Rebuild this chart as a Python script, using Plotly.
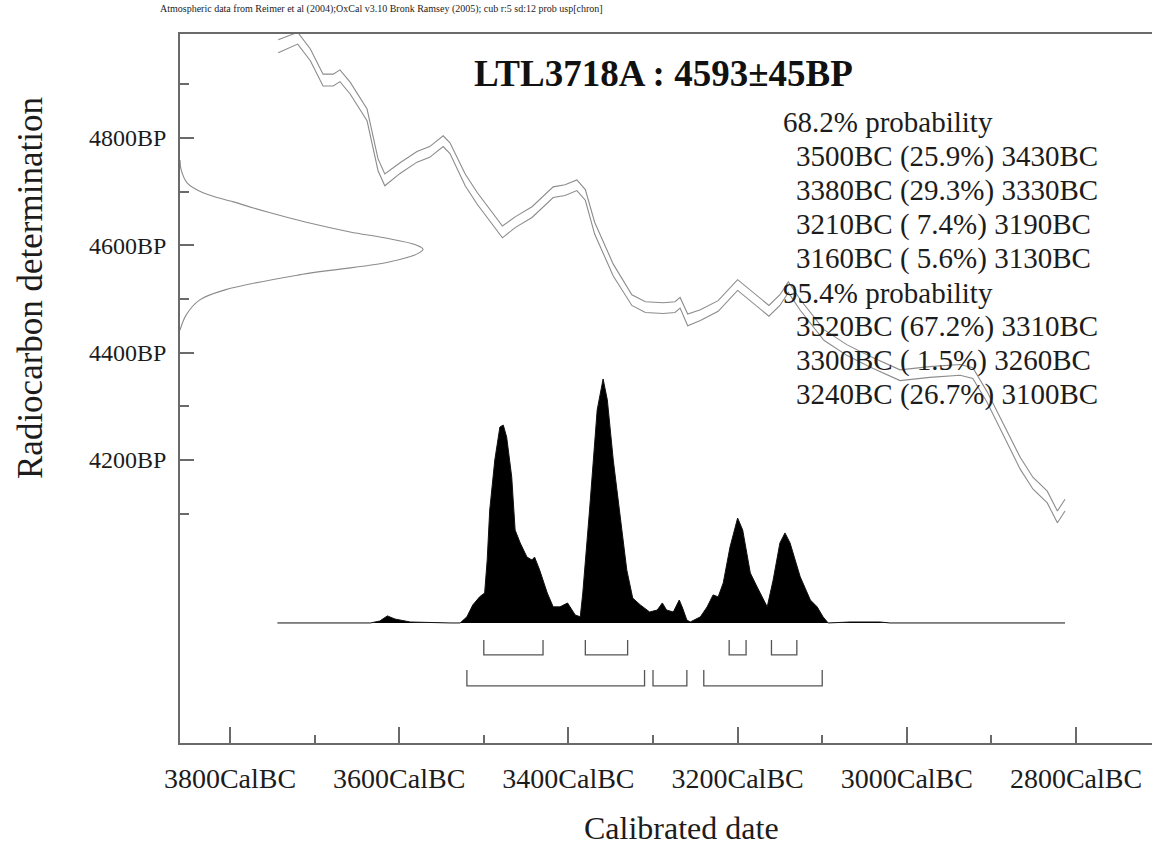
import plotly.graph_objects as go

# ---------------- data ----------------
sample_name = "LTL3718A"
bp_value = 4593
bp_error = 45
note_text = ("Atmospheric data from Reimer et al (2004);OxCal v3.10 Bronk Ramsey (2005); "
             "cub r:5 sd:12 prob usp[chron]")

# calibration curve (calendar year BC, radiocarbon BP mid, half-width BP)
curve_year = [3743, 3729, 3720, 3705, 3690, 3678, 3670, 3658, 3638, 3625, 3617, 3599,
              3579, 3564, 3548, 3540, 3522, 3508, 3493, 3478, 3463, 3443, 3418, 3404,
              3390, 3380, 3369, 3347, 3325, 3309, 3288, 3274, 3268, 3259, 3244, 3223,
              3200, 3185, 3163, 3150, 3140, 3126, 3108, 3098, 3071, 3043, 3008, 2973,
              2937, 2922, 2905, 2882, 2866, 2851, 2834, 2822, 2813]
curve_bp = [4971, 4980, 4986, 4955, 4908, 4908, 4916, 4893, 4843, 4750, 4722, 4744,
            4765, 4774, 4794, 4781, 4722, 4688, 4657, 4625, 4643, 4662, 4699, 4703,
            4712, 4694, 4632, 4554, 4498, 4485, 4483, 4485, 4493, 4461, 4470, 4487,
            4526, 4507, 4478, 4498, 4522, 4489, 4452, 4433, 4405, 4383, 4358, 4364,
            4368, 4362, 4317, 4243, 4194, 4157, 4131, 4094, 4116]
curve_err = [12, 12, 11, 11, 11, 11, 11, 11, 11, 11, 11, 10,
             10, 10, 10, 10, 11, 11, 11, 11, 10, 10, 10, 10,
             10, 10, 11, 11, 10, 10, 10, 10, 10, 11, 10, 10,
             10, 10, 10, 10, 10, 10, 10, 10, 10, 10, 10, 10,
             10, 10, 10, 11, 11, 11, 11, 11, 11]

# radiocarbon measurement profile (BP, relative probability)
gauss_bp = [4759, 4740, 4716, 4698, 4681, 4662, 4643, 4625, 4614, 4601, 4593, 4585,
            4569, 4545, 4517, 4498, 4470, 4442]
gauss_prob = [0.0, 0.005, 0.03, 0.095, 0.22, 0.36, 0.52, 0.70, 0.84, 0.97, 1.0, 0.98,
              0.86, 0.49, 0.185, 0.08, 0.025, 0.0]

# calibrated distribution (year BC, relative probability)
dist_year = [3744, 3634, 3623, 3614, 3605, 3587, 3540, 3528, 3520, 3513, 3505, 3499,
             3496, 3493, 3487, 3481, 3477, 3473, 3467, 3463, 3457, 3449, 3443, 3440,
             3434, 3425, 3418, 3410, 3401, 3392, 3386, 3383, 3375, 3366, 3359, 3354,
             3347, 3339, 3331, 3324, 3315, 3304, 3295, 3289, 3284, 3276, 3269, 3265,
             3260, 3256, 3244, 3236, 3229, 3223, 3217, 3209, 3200, 3194, 3185, 3177,
             3165, 3158, 3150, 3144, 3138, 3126, 3114, 3106, 3099, 3093, 3067, 3032,
             3020, 2813]
dist_prob = [0.0, 0.0, 0.008, 0.029, 0.016, 0.004, 0.0, 0.0, 0.025, 0.074, 0.107, 0.123,
             0.258, 0.463, 0.668, 0.803, 0.811, 0.762, 0.598, 0.381, 0.328, 0.270, 0.258, 0.270,
             0.217, 0.123, 0.066, 0.066, 0.082, 0.033, 0.025, 0.123, 0.463, 0.873, 1.0, 0.914,
             0.668, 0.443, 0.217, 0.102, 0.074, 0.045, 0.053, 0.082, 0.053, 0.045, 0.094, 0.061,
             0.012, 0.004, 0.025, 0.066, 0.115, 0.107, 0.164, 0.311, 0.430, 0.381, 0.205, 0.148,
             0.066, 0.176, 0.328, 0.369, 0.328, 0.189, 0.094, 0.066, 0.025, 0.0, 0.004, 0.004,
             0.0, 0.0]

# probability ranges
r68_from = [3500, 3380, 3210, 3160]
r68_to = [3430, 3330, 3190, 3130]
r68_pct = [25.9, 29.3, 7.4, 5.6]
r95_from = [3520, 3300, 3240]
r95_to = [3310, 3260, 3100]
r95_pct = [67.2, 1.5, 26.7]

x_tick_years = [3800, 3600, 3400, 3200, 3000, 2800]
x_minor_years = [3700, 3500, 3300, 3100, 2900]
y_tick_bp = [4200, 4400, 4600, 4800]
y_minor_bp = [4100, 4300, 4500, 4700, 4900]

# ---------------- figure ----------------
W, H = 1152, 849
L, R, T, B = 180, 0, 34, 106
AX = "#6a6a6a"
TXT = "#1c1c1c"
SERIF = "Liberation Serif, Times New Roman, serif"

fig = go.Figure()

upper = [m + e for m, e in zip(curve_bp, curve_err)]
lower = [m - e for m, e in zip(curve_bp, curve_err)]
for ys in (upper, lower):
    fig.add_trace(go.Scatter(x=curve_year, y=ys, mode="lines",
                             line=dict(color="#8c8c8c", width=1.1),
                             hoverinfo="skip", showlegend=False))

fig.add_trace(go.Scatter(x=gauss_prob, y=gauss_bp, mode="lines", xaxis="x2", yaxis="y",
                         line=dict(color="#8c8c8c", width=1.1, shape="spline", smoothing=1.0),
                         hoverinfo="skip", showlegend=False))

fig.add_trace(go.Scatter(x=dist_year, y=dist_prob, mode="lines", xaxis="x", yaxis="y2",
                         fill="tozeroy", fillcolor="#000000",
                         line=dict(color="#111111", width=1), hoverinfo="skip",
                         showlegend=False))


def bracket_path(froms, tos, top, bottom):
    xs, ys = [], []
    for a, b in zip(froms, tos):
        xs += [a, a, b, b, None]
        ys += [top, bottom, bottom, top, None]
    return xs, ys


for froms, tos, top, bottom in ((r68_from, r68_to, -0.070, -0.131),
                                (r95_from, r95_to, -0.193, -0.258)):
    bx, by = bracket_path(froms, tos, top, bottom)
    fig.add_trace(go.Scatter(x=bx, y=by, mode="lines", xaxis="x", yaxis="y2",
                             line=dict(color="#555555", width=1.3), hoverinfo="skip",
                             showlegend=False))

# ---------------- annotations ----------------
def px_x(p):
    return (p - L) / (W - L - R)


def px_y(p):
    return (H - B - p) / (H - B - T)


ann = []
ann.append(dict(text=f"{sample_name} : {bp_value}±{bp_error}BP", x=px_x(663), y=px_y(73),
                xanchor="center", yanchor="middle",
                font=dict(family=SERIF, size=37, color="#111111", weight="bold")))

lines = [("68.2% probability", 781)]
for a, b, p in zip(r68_from, r68_to, r68_pct):
    lines.append((f"{a}BC ({p:4.1f}%) {b}BC", 794))
lines.append(("95.4% probability", 781))
for a, b, p in zip(r95_from, r95_to, r95_pct):
    lines.append((f"{a}BC ({p:4.1f}%) {b}BC", 794))
for i, (t, xl) in enumerate(lines):
    ann.append(dict(text=t.replace("( ", "(&nbsp;"), x=px_x(xl), y=px_y(122 + i * 34.1),
                    xanchor="left", yanchor="middle",
                    font=dict(family=SERIF, size=29, color=TXT)))

ann.append(dict(text=note_text, x=px_x(158), y=px_y(9), xanchor="left", yanchor="middle",
                font=dict(family=SERIF, size=10, color=TXT)))
ann.append(dict(text="Radiocarbon determination", x=px_x(30), y=px_y(288), textangle=-90,
                xanchor="center", yanchor="middle",
                font=dict(family=SERIF, size=35, color=TXT)))
ann.append(dict(text="Calibrated date", x=px_x(681), y=px_y(828),
                xanchor="center", yanchor="middle",
                font=dict(family=SERIF, size=32, color=TXT)))
for a in ann:
    a.update(xref="paper", yref="paper", showarrow=False)

fig.update_layout(
    width=W, height=H,
    margin=dict(l=L, r=R, t=T, b=B, pad=0),
    paper_bgcolor="white", plot_bgcolor="white",
    showlegend=False,
    annotations=ann,
    xaxis=dict(range=[3859.1, 2710.2], showgrid=False, zeroline=False,
               showline=True, linecolor=AX, linewidth=1.5, mirror=True,
               ticks="inside", ticklen=16, tickwidth=1.5, tickcolor=AX,
               tickmode="array", tickvals=x_tick_years,
               ticktext=[f"{v}CalBC" for v in x_tick_years],
               ticklabelstandoff=10,
               tickfont=dict(family=SERIF, size=28, color=TXT),
               minor=dict(tickvals=x_minor_years, ticks="inside", ticklen=8,
                          tickwidth=1.5, tickcolor=AX, showgrid=False)),
    xaxis2=dict(range=[0, 4.0], overlaying="x", visible=False),
    yaxis=dict(range=[3672.7, 4993.8], showgrid=False, zeroline=False,
               showline=True, linecolor=AX, linewidth=1.5,
               ticks="inside", ticklen=14, tickwidth=1.5, tickcolor=AX,
               tickmode="array", tickvals=y_tick_bp,
               ticktext=[f"{v}BP" for v in y_tick_bp],
               ticklabelstandoff=7,
               tickfont=dict(family=SERIF, size=24, color=TXT),
               minor=dict(tickvals=y_minor_bp, ticks="inside", ticklen=9,
                          tickwidth=1.5, tickcolor=AX, showgrid=False)),
    yaxis2=dict(range=[-0.492, 2.414], overlaying="y", visible=False),
)

fig.write_html("out.html", config={"displayModeBar": False},
               post_script="document.body.style.margin='0';")
